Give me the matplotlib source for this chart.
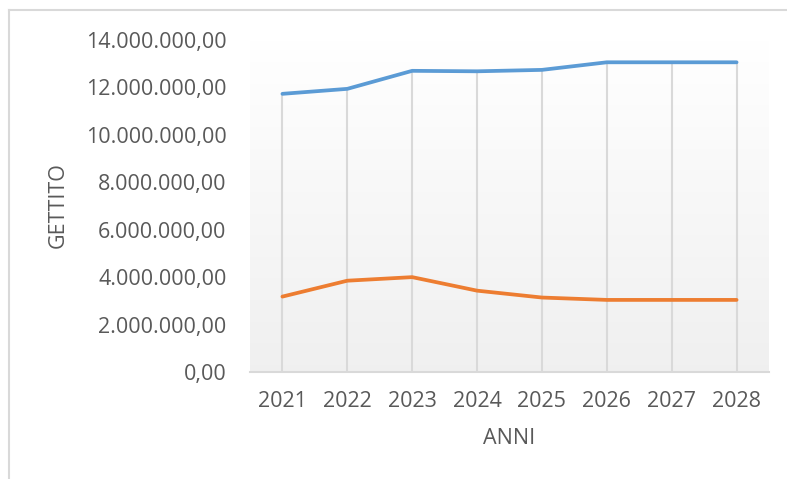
"""GETTITO per anno, line chart in Excel style."""

import matplotlib

matplotlib.use("Agg")
import matplotlib.pyplot as plt  # noqa: E402
import numpy as np  # noqa: E402
from matplotlib.lines import Line2D  # noqa: E402
from matplotlib.ticker import FuncFormatter  # noqa: E402

YEARS = ["2021", "2022", "2023", "2024", "2025", "2026", "2027", "2028"]
SERIES_BLUE = [11.73e6, 11.94e6, 12.70e6, 12.68e6, 12.74e6, 13.06e6, 13.06e6, 13.06e6]
SERIES_ORANGE = [3.18e6, 3.85e6, 4.00e6, 3.43e6, 3.14e6, 3.04e6, 3.04e6, 3.04e6]
Y_TICKS = [0, 2e6, 4e6, 6e6, 8e6, 10e6, 12e6, 14e6]

BLUE, ORANGE, GRID, TXT = "#5b9bd5", "#ed7d31", "#d9d9d9", "#595959"
FS = 15.5

plt.rcParams["font.family"] = ["Open Sans", "DejaVu Sans"]


def _it_fmt(v, _pos):
    s = f"{v:,.2f}"
    return s.replace(",", "X").replace(".", ",").replace("X", ".")


fig = plt.figure(figsize=(7.87, 4.79), dpi=100)
ax = fig.add_axes([250 / 787, 1 - 372 / 479, 519 / 787, 332 / 479])

x = np.arange(len(YEARS))
ax.set_xlim(-0.5, len(YEARS) - 0.5)
ax.set_ylim(0, 14e6)

# plot-area fill: white at the top fading to light grey at the bottom
grad = np.linspace(1.0, 0.94, 256).reshape(-1, 1)
ax.imshow(np.dstack([grad] * 3), extent=(-0.5, len(YEARS) - 0.5, 0, 14e6),
          aspect="auto", origin="upper", zorder=0)

# vertical gridlines run from the axis up to the top series only
ax.vlines(x, 0, SERIES_BLUE, color=GRID, lw=1.5, zorder=1)

ax.plot(x, SERIES_BLUE, color=BLUE, lw=2.7, solid_capstyle="round", zorder=3)
ax.plot(x, SERIES_ORANGE, color=ORANGE, lw=2.7, solid_capstyle="round", zorder=3)

for s in ("top", "right", "left"):
    ax.spines[s].set_visible(False)
ax.spines["bottom"].set_color(GRID)
ax.spines["bottom"].set_linewidth(1.5)
ax.spines["bottom"].set_zorder(2)

ax.set_yticks(Y_TICKS)
ax.yaxis.set_major_formatter(FuncFormatter(_it_fmt))
ax.set_xticks(x)
ax.set_xticklabels(YEARS)
ax.tick_params(axis="y", length=0, pad=17, labelsize=FS, labelcolor=TXT)
ax.tick_params(axis="x", length=0, pad=14, labelsize=FS, labelcolor=TXT)

ax.set_xlabel("ANNI", fontsize=FS, color=TXT, labelpad=11)
fig.text(58 / 787, 1 - 205 / 479, "GETTITO", rotation=90, fontsize=FS,
         color=TXT, ha="center", va="center")

# outer chart frame (left and top edges visible)
fig.add_artist(Line2D([9 / 787, 9 / 787], [0, 1 - 10 / 479], color=GRID, lw=1.5,
                      transform=fig.transFigure))
fig.add_artist(Line2D([9 / 787, 1], [1 - 10 / 479, 1 - 10 / 479], color=GRID, lw=1.5,
                      transform=fig.transFigure))

fig.savefig("out.png", dpi=100, facecolor="white")
plt.close(fig)
